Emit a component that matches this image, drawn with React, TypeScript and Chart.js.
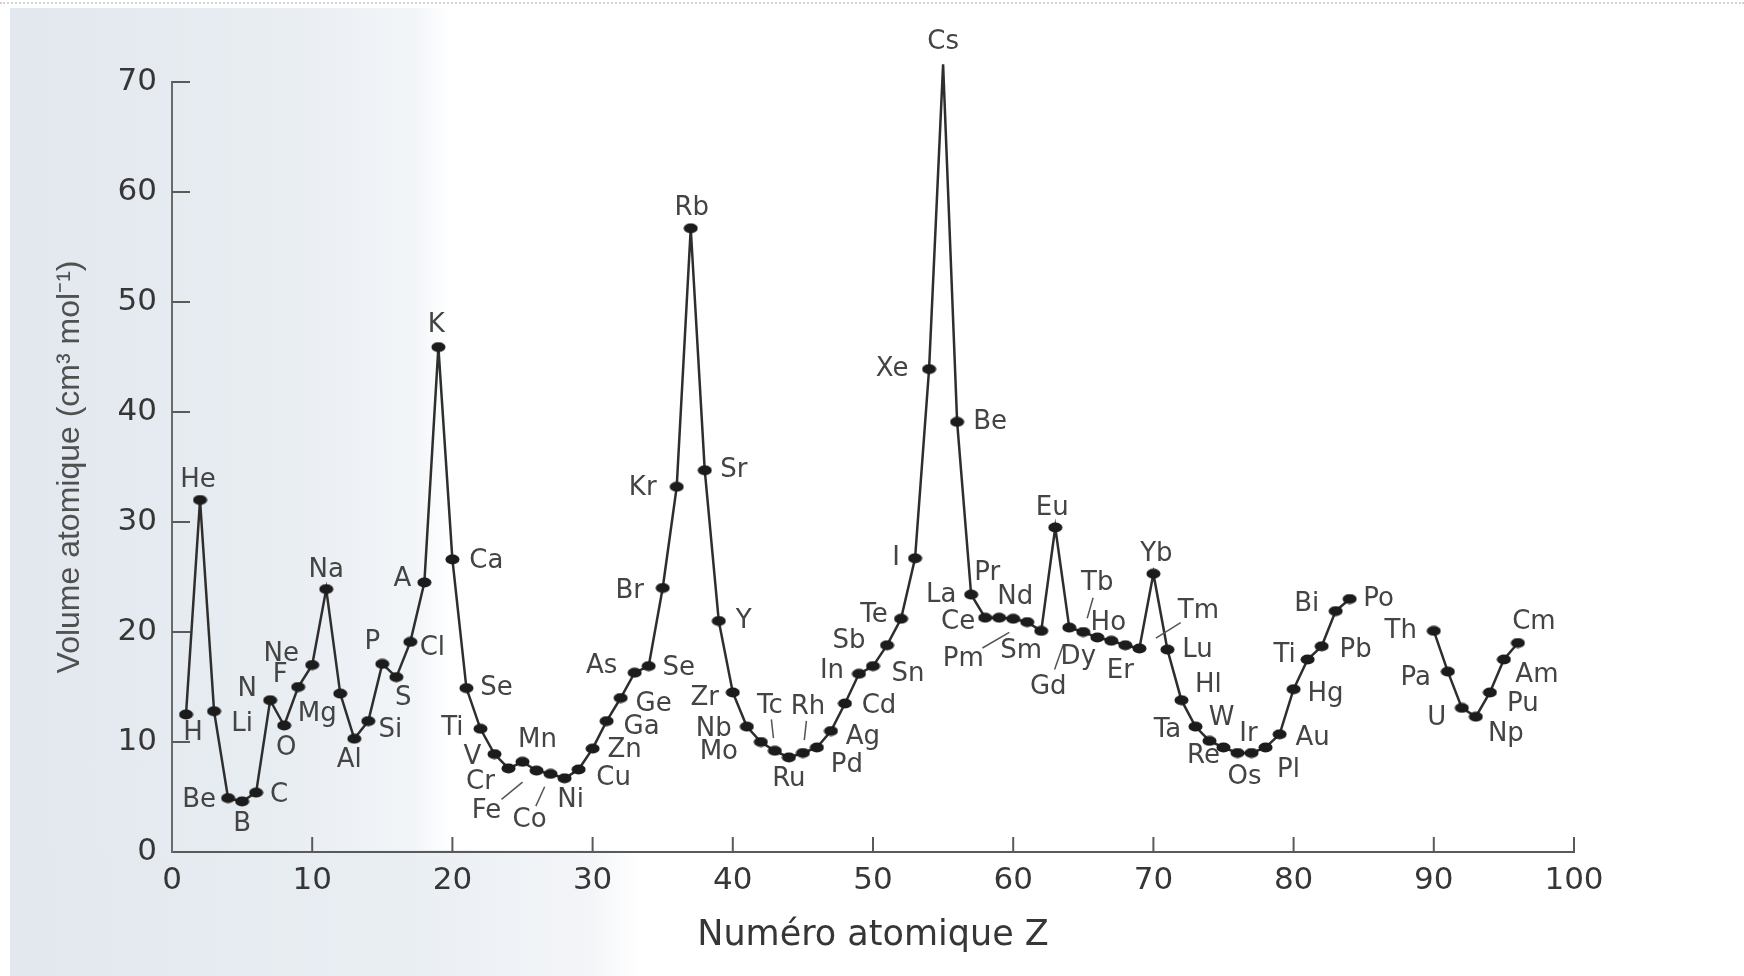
import React, { useEffect, useRef } from "react";
import { Chart, registerables } from "chart.js";

Chart.register(...registerables);

// ---------- data ----------
const atomicNumbers = [
  1, 2, 3, 4, 5, 6, 7, 8, 9, 10,
  11, 12, 13, 14, 15, 16, 17, 18, 19, 20,
  21, 22, 23, 24, 25, 26, 27, 28, 29, 30,
  31, 32, 33, 34, 35, 36, 37, 38, 39, 40,
  41, 42, 43, 44, 45, 46, 47, 48, 49, 50,
  51, 52, 53, 54, 55, 56, 57, 58, 59, 60,
  61, 62, 63, 64, 65, 66, 67, 68, 69, 70,
  71, 72, 73, 74, 75, 76, 77, 78, 79, 80,
  81, 82, 83, 84,
  90, 91, 92, 93, 94, 95, 96,
];

const symbols = [
  "H", "He", "Li", "Be", "B", "C", "N", "O", "F", "Ne",
  "Na", "Mg", "Al", "Si", "P", "S", "Cl", "A", "K", "Ca",
  "Se", "Ti", "V", "Cr", "Mn", "Fe", "Co", "Ni", "Cu", "Zn",
  "Ga", "Ge", "As", "Se", "Br", "Kr", "Rb", "Sr", "Y", "Zr",
  "Nb", "Mo", "Tc", "Ru", "Rh", "Pd", "Ag", "Cd", "In", "Sn",
  "Sb", "Te", "I", "Xe", "Cs", "Be", "La", "Ce", "Pr", "Nd",
  "Pm", "Sm", "Eu", "Gd", "Tb", "Dy", "Ho", "Er", "Tm", "Yb",
  "Lu", "Hl", "Ta", "W", "Re", "Os", "Ir", "Pl", "Au", "Hg",
  "Ti", "Pb", "Bi", "Po",
  "Th", "Pa", "U", "Np", "Pu", "Am", "Cm",
];

const atomicVolumes = [
  12.5, 32.0, 12.8, 4.9, 4.6, 5.4, 13.8, 11.5, 15.0, 17.0,
  23.9, 14.4, 10.3, 11.9, 17.1, 15.9, 19.1, 24.5, 45.9, 26.6,
  14.9, 11.2, 8.9, 7.6, 8.2, 7.4, 7.1, 6.7, 7.5, 9.4,
  11.9, 14.0, 16.3, 16.9, 24.0, 33.2, 56.7, 34.7, 21.0, 14.5,
  11.4, 10.0, 9.2, 8.6, 9.0, 9.5, 11.0, 13.5, 16.2, 16.9,
  18.8, 21.2, 26.7, 43.9, 71.6, 39.1, 23.4, 21.3, 21.3, 21.2,
  20.9, 20.1, 29.5, 20.4, 20.0, 19.5, 19.2, 18.8, 18.5, 25.3,
  18.4, 13.8, 11.4, 10.1, 9.5, 9.0, 9.0, 9.5, 10.7, 14.8,
  17.5, 18.7, 21.9, 23.0,
  20.1, 16.4, 13.1, 12.3, 14.5, 17.5, 19.0,
];

const xTicks = [0, 10, 20, 30, 40, 50, 60, 70, 80, 90, 100];
const yTicks = [0, 10, 20, 30, 40, 50, 60, 70];

const xTitle = "Numéro atomique Z";
const yTitle = "Volume atomique (cm³ mol⁻¹)";

// ---------- label layout (dx, dy from point to label centre; 1 = leader line) ----------
const labelPlacement: [number, number, number][] = [
  [7, 19, 0], [-2, -20, 0], [28, 13, 0], [-29, 2, 0], [0, 23, 0], [23, 3, 0], [-23, -11, 0], [2, 23, 0], [-18, -12, 0], [-31, -11, 0],
  [0, -19, 0], [-23, 21, 0], [-5, 22, 0], [22, 9, 0], [-10, -22, 0], [7, 21, 0], [22, 6, 0], [-22, -3, 0], [-2, -22, 0], [34, 2, 0],
  [30, 0, 0], [-28, -1, 0], [-22, 3, 0], [-28, 14, 0], [15, -22, 0], [-50, 41, 1], [-21, 46, 1], [6, 22, 0], [35, 9, 0], [32, 2, 0],
  [35, 6, 0], [33, 6, 0], [-33, -6, 0], [30, 2, 0], [-33, 3, 0], [-34, 1, 0], [1, -20, 0], [29, 0, 0], [25, 0, 0], [-28, 6, 0],
  [-33, 3, 0], [-42, 10, 0], [-5, -45, 1], [0, 22, 0], [5, -46, 1], [30, 18, 0], [32, 6, 0], [34, 3, 0], [-27, -3, 0], [35, 8, 0],
  [-38, -4, 0], [-27, -4, 0], [-19, 0, 0], [-37, 0, 0], [0, -22, 0], [33, 0, 0], [-30, 1, 0], [-27, 5, 0], [-12, -44, 0], [2, -22, 0],
  [-64, 37, 1], [-20, 20, 0], [-3, -19, 0], [-21, 60, 1], [14, -49, 1], [-19, 20, 0], [-3, -18, 0], [-5, 26, 0], [59, -37, 1], [3, -19, 0],
  [30, 1, 0], [27, -15, 0], [-28, 4, 0], [12, -23, 0], [-20, 9, 0], [7, 24, 0], [-3, -19, 0], [23, 23, 0], [33, 4, 0], [32, 5, 0],
  [-23, -4, 0], [34, 4, 0], [-29, -7, 0], [29, 0, 0],
  [-33, 0, 0], [-32, 7, 0], [-25, 10, 0], [30, 18, 0], [33, 12, 0], [33, 16, 0], [16, -21, 0],
];

const FONT_WIDE = "'DejaVu Sans', sans-serif";
const FONT_NARROW = "'Liberation Sans', Arial, sans-serif";

function buildPoints() {
  const pts: { x: number; y: number | null }[] = [];
  atomicNumbers.forEach((z, i) => {
    if (i > 0 && z - atomicNumbers[i - 1] > 1) {
      pts.push({ x: (z + atomicNumbers[i - 1]) / 2, y: null });
    }
    pts.push({ x: z, y: atomicVolumes[i] });
  });
  return pts;
}

function makeDot() {
  const c = document.createElement("canvas");
  c.width = 15;
  c.height = 11;
  const g = c.getContext("2d")!;
  g.fillStyle = "#1c1c1c";
  g.beginPath();
  g.ellipse(7.5, 5.5, 7, 5, 0, 0, Math.PI * 2);
  g.fill();
  return c;
}

const labelsPlugin = {
  id: "elementLabels",
  afterDatasetsDraw(chart: any) {
    const { ctx, scales } = chart;
    const xs = scales.x;
    const ys = scales.y;
    ctx.save();
    ctx.font = `26px ${FONT_WIDE}`;
    ctx.fillStyle = "#444444";
    ctx.strokeStyle = "#555";
    ctx.lineWidth = 1.5;
    ctx.textAlign = "center";
    ctx.textBaseline = "middle";
    symbols.forEach((s, i) => {
      const px = xs.getPixelForValue(atomicNumbers[i]);
      const py = ys.getPixelForValue(atomicVolumes[i]);
      const [dx, dy, leader] = labelPlacement[i];
      if (leader) {
        ctx.beginPath();
        ctx.moveTo(px + dx * 0.28, py + dy * 0.28);
        ctx.lineTo(px + dx * 0.7, py + dy * 0.7);
        ctx.stroke();
      }
      ctx.fillText(s, px + dx, py + dy);
    });
    ctx.restore();
  },
};

const innerTicksPlugin = {
  id: "innerTicks",
  afterDraw(chart: any) {
    const { ctx, chartArea, scales } = chart;
    ctx.save();
    ctx.strokeStyle = "#5a5a5a";
    ctx.lineWidth = 2;
    xTicks.forEach((v) => {
      if (v === 0) return;
      const px = scales.x.getPixelForValue(v);
      ctx.beginPath();
      ctx.moveTo(px, chartArea.bottom);
      ctx.lineTo(px, chartArea.bottom - 15);
      ctx.stroke();
    });
    yTicks.forEach((v) => {
      if (v === 0) return;
      const py = scales.y.getPixelForValue(v);
      ctx.beginPath();
      ctx.moveTo(chartArea.left, py);
      ctx.lineTo(chartArea.left + 18, py);
      ctx.stroke();
    });
    ctx.restore();
  },
};

export default function App() {
  const canvasRef = useRef<HTMLCanvasElement | null>(null);

  useEffect(() => {
    if (!canvasRef.current) return;
    const dot = makeDot();
    const chart = new Chart(canvasRef.current, {
      type: "line",
      data: {
        datasets: [
          {
            data: buildPoints() as any,
            borderColor: "#2e2e2e",
            borderWidth: 2.5,
            pointStyle: dot as any,
            pointRadius: 6,
            spanGaps: false,
            clip: false as any,
            tension: 0,
          },
        ],
      },
      options: {
        responsive: false,
        animation: false,
        layout: { padding: { top: 82, right: 170, left: 0, bottom: 0 } },
        plugins: {
          legend: { display: false },
          tooltip: { enabled: false },
        },
        scales: {
          x: {
            type: "linear",
            min: 0,
            max: 100,
            afterFit(s: any) {
              s.height = 124;
            },
            afterBuildTicks(s: any) {
              s.ticks = xTicks.map((v) => ({ value: v }));
            },
            grid: { display: false, drawTicks: false },
            border: { display: true, color: "#5a5a5a", width: 2 },
            ticks: {
              padding: 10,
              color: "#363636",
              font: { family: FONT_WIDE, size: 31 },
              maxRotation: 0,
              autoSkip: false,
            },
            title: {
              display: true,
              text: xTitle,
              color: "#363636",
              font: { family: FONT_WIDE, size: 35 },
              padding: { top: 0, bottom: 19 },
            },
          },
          y: {
            type: "linear",
            min: 0,
            max: 70,
            afterFit(s: any) {
              s.width = 172;
            },
            afterBuildTicks(s: any) {
              s.ticks = yTicks.map((v) => ({ value: v }));
            },
            grid: { display: false, drawTicks: false },
            border: { display: true, color: "#6a6a6a", width: 2 },
            ticks: {
              padding: 15,
              color: "#363636",
              font: { family: FONT_WIDE, size: 31 },
            },
            title: {
              display: true,
              text: yTitle,
              color: "#505050",
              font: { family: FONT_NARROW, size: 32 },
              padding: { top: 51, bottom: 0 },
            },
          },
        },
      },
      plugins: [labelsPlugin, innerTicksPlugin],
    });
    return () => chart.destroy();
  }, []);

  return (
    <div
      style={{
        position: "absolute",
        left: 0,
        top: 0,
        width: 1744,
        height: 976,
        background: "#ffffff",
        overflow: "hidden",
      }}
    >
      <div
        style={{
          position: "absolute",
          left: 0,
          top: 2,
          width: 1744,
          height: 0,
          borderTop: "2px dotted #d4d4d4",
        }}
      />
      <div
        style={{
          position: "absolute",
          left: 10,
          top: 8,
          width: 440,
          height: 850,
          background:
            "linear-gradient(to right, #e2e8ee 0%, #e8edf2 60%, #f2f5f8 92%, #ffffff 100%)",
        }}
      />
      <div
        style={{
          position: "absolute",
          left: 10,
          top: 850,
          width: 630,
          height: 126,
          background:
            "linear-gradient(to right, #e2e8ee 0%, #e9eef3 60%, #f3f5f8 92%, #ffffff 100%)",
        }}
      />
      <canvas
        ref={canvasRef}
        width={1744}
        height={976}
        style={{ position: "absolute", left: 0, top: 0 }}
      />
    </div>
  );
}
